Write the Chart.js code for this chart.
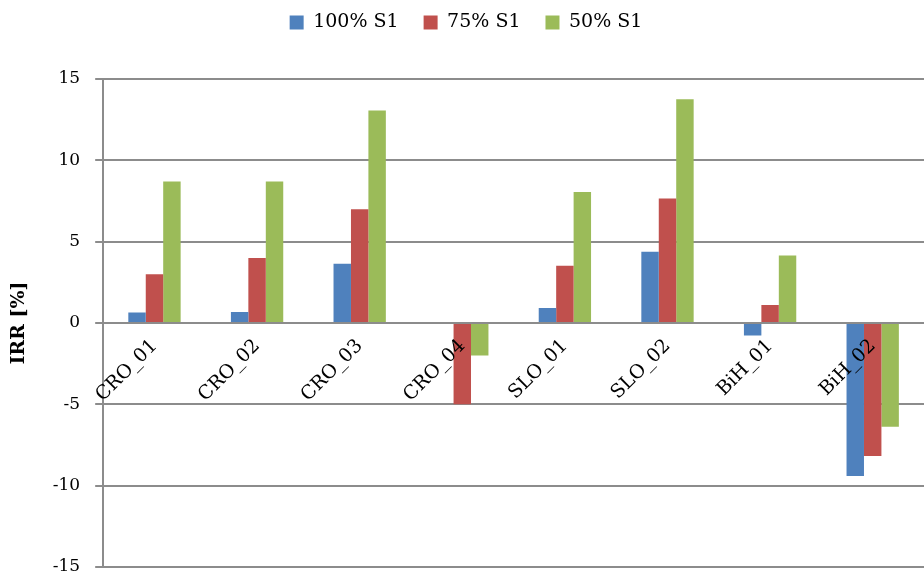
<!DOCTYPE html>
<html>
<head>
<meta charset="utf-8">
<script src="https://cdn.jsdelivr.net/npm/chart.js@4/dist/chart.umd.min.js"></script>
<style>
  html, body { margin: 0; padding: 0; background: #ffffff; }
  #wrap { width: 924px; height: 579px; }
</style>
</head>
<body>
<div id="wrap"><canvas id="c" width="924" height="579"></canvas></div>
<script>
// Sites and IRR values (%) for each share of S1
const categories = ['CRO_01', 'CRO_02', 'CRO_03', 'CRO_04', 'SLO_01', 'SLO_02', 'BiH_01', 'BiH_02'];
const irr100 = [0.65, 0.67, 3.64, 0, 0.92, 4.38, -0.77, -9.4];
const irr75  = [3.0, 4.0, 7.0, -5.0, 3.52, 7.65, 1.11, -8.17];
const irr50  = [8.7, 8.7, 13.07, -2.0, 8.05, 13.75, 4.15, -6.38];
const seriesNames = ['100% S1', '75% S1', '50% S1'];
const yTicks = [-15, -10, -5, 0, 5, 10, 15];

const serif = "'DejaVu Serif', 'Liberation Serif', serif";

// Extra room between the legend and the plot area
const legendGap = {
  id: 'legendGap',
  beforeInit(chart) {
    const fit = chart.legend.fit;
    chart.legend.fit = function () {
      fit.bind(chart.legend)();
      this.height += 37;
    };
  }
};

new Chart(document.getElementById('c'), {
  type: 'bar',
  data: {
    labels: categories,
    datasets: [
      { label: seriesNames[0], data: irr100, backgroundColor: '#4f81bd' },
      { label: seriesNames[1], data: irr75,  backgroundColor: '#c0504d' },
      { label: seriesNames[2], data: irr50,  backgroundColor: '#9bbb59' }
    ]
  },
  plugins: [legendGap],
  options: {
    responsive: false,
    animation: false,
    layout: { padding: { top: -12, right: 0, bottom: 0, left: 8 } },
    datasets: { bar: { categoryPercentage: 0.51, barPercentage: 1.0 } },
    plugins: {
      tooltip: { enabled: false },
      legend: {
        position: 'top',
        align: 'center',
        labels: {
          color: '#000',
          font: { family: serif, size: 19 },
          boxWidth: 14,
          boxHeight: 14,
          padding: 25
        }
      }
    },
    scales: {
      x: {
        position: { y: 0 },
        grid: { display: false },
        border: { display: false },
        ticks: {
          z: 1,
          color: '#000',
          font: { family: serif, size: 19 },
          minRotation: 45,
          maxRotation: 45,
          padding: 4
        }
      },
      y: {
        min: -15,
        max: 15,
        afterBuildTicks: (axis) => { axis.ticks = yTicks.map(v => ({ value: v })); },
        afterFit: (axis) => { axis.paddingBottom = 12; axis.paddingTop = 10; },
        grid: {
          color: '#8c8c8c',
          lineWidth: 2,
          tickLength: 8,
          drawTicks: true
        },
        border: { display: true, color: '#8c8c8c', width: 2 },
        ticks: {
          color: '#000',
          font: { family: serif, size: 17 },
          padding: 15
        },
        title: {
          display: true,
          text: 'IRR [%]',
          color: '#000',
          font: { family: serif, size: 19, weight: 'bold' },
          padding: { top: 0, bottom: 7 }
        }
      }
    }
  }
});
</script>
</body>
</html>
